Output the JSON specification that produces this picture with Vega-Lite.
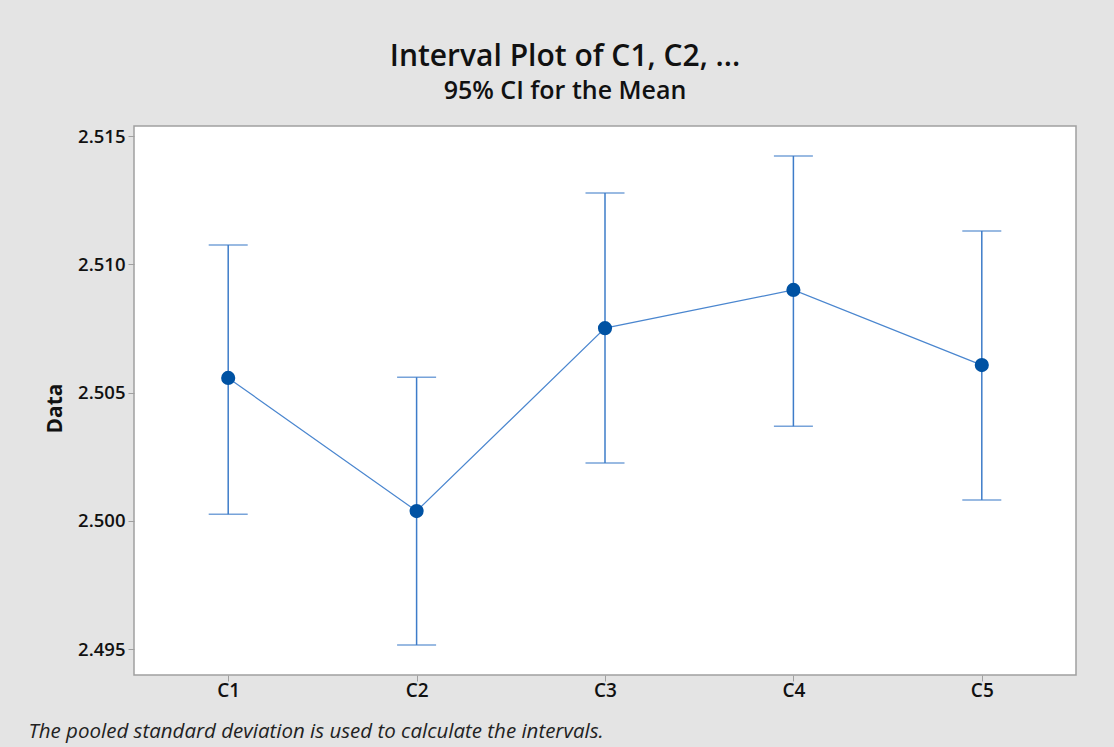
{
  "$schema": "https://vega.github.io/schema/vega-lite/v6.json",
  "width": 942,
  "height": 549,
  "autosize": {"type": "none"},
  "padding": {"left": 134, "top": 126, "right": 38, "bottom": 72},
  "background": "#e4e4e4",
  "config": {
    "font": "Open Sans",
    "view": {"fill": "white", "stroke": "#a0a0a0", "strokeWidth": 1.5}
  },
  "title": {
    "text": "Interval Plot of C1, C2, ...",
    "subtitle": "95% CI for the Mean",
    "anchor": "middle",
    "dx": -40,
    "offset": 22,
    "font": "Open Sans",
    "fontSize": 30,
    "fontWeight": 600,
    "color": "#111111",
    "subtitleFont": "Open Sans",
    "subtitleFontSize": 25,
    "subtitleFontWeight": 600,
    "subtitleColor": "#111111",
    "subtitlePadding": 7
  },
  "data": {
    "values": [
      {"col": "C1", "mean": 2.50557, "lower": 2.50026, "upper": 2.51075},
      {"col": "C2", "mean": 2.50038, "lower": 2.49516, "upper": 2.50560},
      {"col": "C3", "mean": 2.50751, "lower": 2.50225, "upper": 2.51278},
      {"col": "C4", "mean": 2.50900, "lower": 2.50369, "upper": 2.51422},
      {"col": "C5", "mean": 2.50607, "lower": 2.50081, "upper": 2.51130}
    ]
  },
  "encoding": {
    "x": {
      "field": "col",
      "type": "nominal",
      "scale": {"type": "point", "padding": 0.5},
      "axis": {
        "title": "The pooled standard deviation is used to calculate the intervals.",
        "titleFont": "Open Sans",
        "titleFontStyle": "italic",
        "titleFontWeight": "normal",
        "titleFontSize": 20.5,
        "titleColor": "#222222",
        "titleAnchor": "start",
        "titleAlign": "left",
        "titleX": -106,
        "titleY": 62,
        "titleBaseline": "alphabetic",
        "labelAngle": 0,
        "labelFontSize": 19,
        "labelFontWeight": 600,
        "labelColor": "#111111",
        "labelPadding": 0,
        "tickColor": "#a0a0a0",
        "tickSize": 6,
        "domain": false,
        "grid": false
      }
    }
  },
  "layer": [
    {
      "mark": {"type": "rule", "color": "#3d7cc9", "strokeWidth": 1.5},
      "encoding": {
        "y": {
          "field": "lower",
          "type": "quantitative",
          "scale": {"domain": [2.49399, 2.51539], "nice": false, "zero": false},
          "axis": {
            "title": "Data",
            "titleFont": "Open Sans",
            "titleFontSize": 21,
            "titleFontWeight": "bold",
            "titleColor": "#111111",
            "titlePadding": 12,
            "titleY": 282,
            "values": [2.495, 2.5, 2.505, 2.51, 2.515],
            "format": ".3f",
            "labelFontSize": 18.5,
            "labelFontWeight": 600,
            "labelColor": "#111111",
            "labelPadding": 3,
            "tickColor": "#a0a0a0",
            "tickSize": 6,
            "domain": false,
            "grid": false
          }
        },
        "y2": {"field": "upper"}
      }
    },
    {
      "mark": {"type": "tick", "color": "#3d7cc9", "thickness": 1.5, "size": 39, "orient": "horizontal"},
      "encoding": {"y": {"field": "upper", "type": "quantitative"}}
    },
    {
      "mark": {"type": "tick", "color": "#3d7cc9", "thickness": 1.5, "size": 39, "orient": "horizontal"},
      "encoding": {"y": {"field": "lower", "type": "quantitative"}}
    },
    {
      "mark": {"type": "line", "color": "#4a86cf", "strokeWidth": 1.2},
      "encoding": {"y": {"field": "mean", "type": "quantitative"}}
    },
    {
      "mark": {"type": "point", "filled": true, "opacity": 1, "color": "#0052a3", "size": 200},
      "encoding": {"y": {"field": "mean", "type": "quantitative"}}
    }
  ]
}
